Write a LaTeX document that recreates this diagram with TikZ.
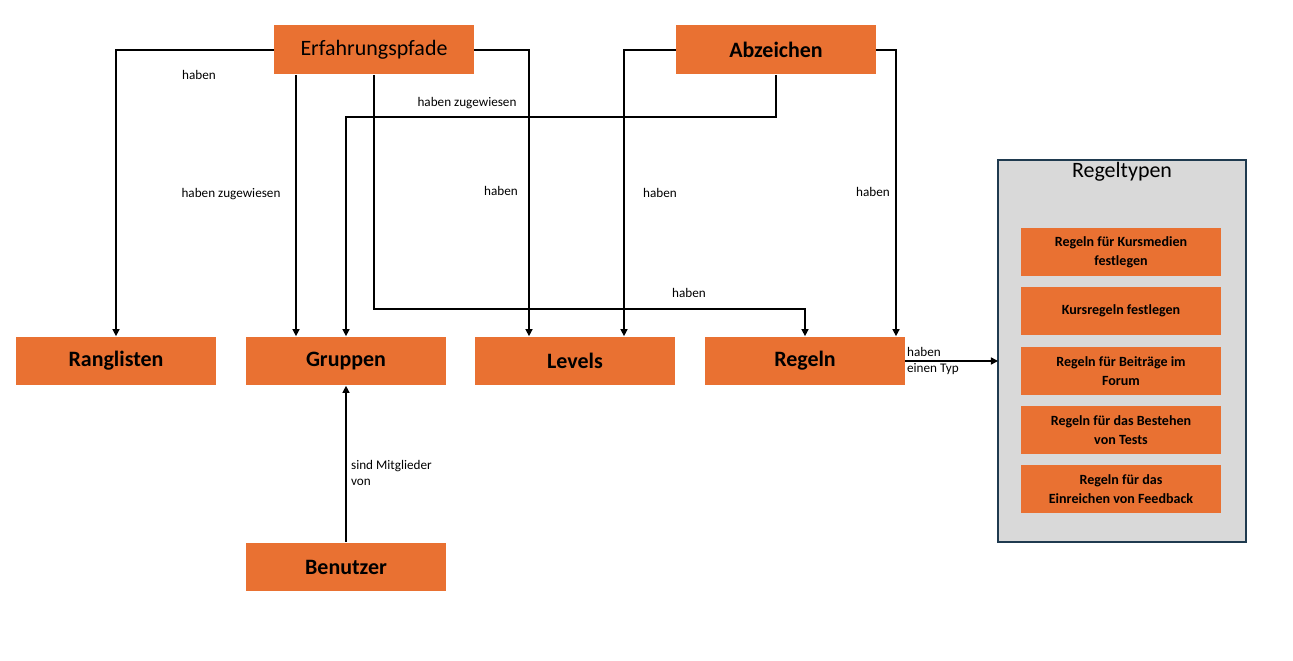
\documentclass[tikz,border=0pt]{standalone}
\usepackage{fontspec}
\setmainfont{Carlito}
\usetikzlibrary{arrows.meta}
\definecolor{boxorange}{HTML}{E97132}
\definecolor{frameblue}{HTML}{1F3A4F}
\definecolor{panelgray}{HTML}{D9D9D9}
\tikzset{
  box/.style={fill=boxorange, minimum width=4cm, minimum height=0.98cm, inner sep=0pt, font=\fontsize{12.5}{14}\selectfont\bfseries},
  rule/.style={fill=boxorange, minimum width=4cm, minimum height=0.98cm, inner sep=0pt, align=center, font=\fontsize{8}{11}\selectfont\bfseries},
  link/.style={-{Triangle[length=4pt,width=4pt]}, line width=0.8pt},
  lbl/.style={font=\fontsize{7.5}{9}\selectfont, inner sep=1pt}
}
\begin{document}
\begin{tikzpicture}[x=0.02cm, y=-0.02cm]
    \useasboundingbox (0,0) rectangle (1293,661);

    % Rule types panel
    \draw[fill=panelgray, draw=frameblue, line width=1pt] (998,160) rectangle (1246,542);
    \node[font=\fontsize{12.5}{14}\selectfont] (typetitle) at (1122,172) {Regeltypen};
    \node[rule] (r1) at (1121,252) {Regeln für Kursmedien\\festlegen};
    \node[rule] (r2) at (1121,311) {Kursregeln festlegen};
    \node[rule] (r3) at (1121,371) {Regeln für Beiträge im\\Forum};
    \node[rule] (r4) at (1121,430) {Regeln für das Bestehen\\von Tests};
    \node[rule] (r5) at (1121,489) {Regeln für das\\Einreichen von Feedback};
    \coordinate (panel) at (998,361);

    % Main boxes
    \node[box, font=\fontsize{12.5}{14}\selectfont] (pfade) at (374,50) {Erfahrungspfade};
    \node[box] (abz) at (776,50) {Abzeichen};
    \node[box] (rang) at (116,361) {Ranglisten};
    \node[box] (grp) at (346,361) {Gruppen};
    \node[box] (lvl) at (575,361) {Levels};
    \node[box] (regeln) at (805,361) {Regeln};
    \node[box] (user) at (346,567) {Benutzer};

    % Connectors from Erfahrungspfade
    \draw[link] (pfade.west) -| (rang.north);
    \node[lbl] at (199,75) {haben};
    \draw[link] (pfade.south -| 296,0) -- (grp.north -| 296,0);
    \node[lbl] at (231,194) {haben zugewiesen};
    \draw[link] (pfade.east) -| (lvl.north -| 529,0);
    \node[lbl] at (501,191) {haben};
    \draw[link] (pfade.south) -- (374,309) -| (regeln.north);
    \node[lbl] at (689,293) {haben};

    % Connectors from Abzeichen
    \draw[link] (abz.west) -| (lvl.north -| 624,0);
    \node[lbl] at (660,193) {haben};
    \draw[link] (abz.south) -- (776,117) -| (grp.north);
    \node[lbl] at (467,103) {haben zugewiesen};
    \draw[link] (abz.east) -| (regeln.north -| 896,0);
    \node[lbl] at (873,192) {haben};

    % Regeln to panel, users to groups
    \draw[link] (regeln.east) -- (panel);
    \node[lbl, anchor=west, align=left] at (905,361) {haben\\einen Typ};
    \draw[link] (user.north) -- (grp.south);
    \node[lbl, anchor=west, align=left] at (349,473) {sind Mitglieder\\von};
\end{tikzpicture}
\end{document}
